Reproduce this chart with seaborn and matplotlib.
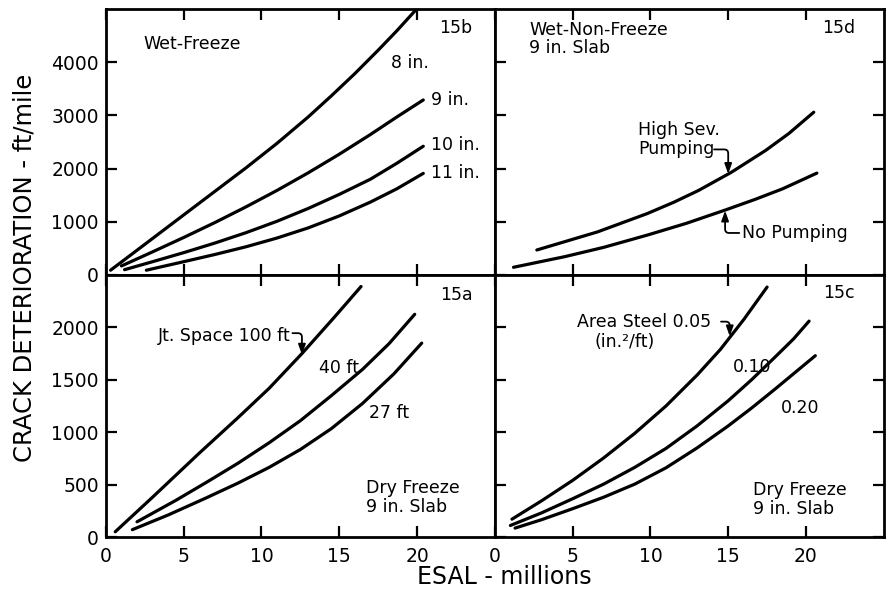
import matplotlib
matplotlib.use("Agg")
import matplotlib.pyplot as plt
import seaborn as sns

# ---- Panel 15b: Wet-Freeze, slab thickness ----
wf_8in_esal = [0.3, 2.5, 5.0, 7.0, 9.0, 11.0, 13.0, 14.5, 16.0, 17.5, 18.7, 19.85]
wf_8in_crack = [90, 576, 1129, 1571, 2013, 2475, 2970, 3370, 3785, 4225, 4590, 4960]
wf_9in_esal = [1.0, 3.0, 5.0, 7.0, 9.0, 11.0, 13.0, 15.0, 17.0, 18.7, 20.4]
wf_9in_crack = [170, 435, 705, 985, 1280, 1590, 1920, 2270, 2640, 2970, 3290]
wf_10in_esal = [1.2, 3.0, 5.0, 7.0, 9.0, 11.0, 13.0, 15.0, 17.0, 18.7, 20.4]
wf_10in_crack = [100, 250, 420, 600, 795, 1010, 1250, 1515, 1800, 2100, 2420]
wf_11in_esal = [2.6, 5.0, 7.0, 9.0, 11.0, 13.0, 15.0, 17.0, 18.7, 20.4]
wf_11in_crack = [90, 250, 385, 530, 695, 885, 1110, 1370, 1620, 1910]

# ---- Panel 15d: Wet-Non-Freeze, 9 in. slab ----
wnf_high_esal = [2.7, 6.6, 9.8, 11.5, 13.1, 15.2, 17.4, 18.9, 20.5]
wnf_high_crack = [470, 810, 1155, 1367, 1590, 1930, 2340, 2660, 3060]
wnf_none_esal = [1.2, 4.5, 7.0, 9.8, 12.3, 14.8, 16.7, 18.5, 20.7]
wnf_none_crack = [145, 345, 520, 750, 970, 1220, 1418, 1620, 1915]

# ---- Panel 15a: Dry Freeze, joint spacing ----
df_100ft_esal = [0.6, 3.0, 6.0, 8.5, 10.5, 12.6, 14.7, 16.4]
df_100ft_crack = [50, 380, 800, 1140, 1420, 1750, 2100, 2390]
df_40ft_esal = [2.0, 4.5, 6.5, 8.5, 10.5, 12.5, 14.5, 16.5, 18.2, 19.85]
df_40ft_crack = [145, 350, 525, 705, 900, 1110, 1350, 1600, 1845, 2125]
df_27ft_esal = [1.7, 4.0, 6.4, 8.5, 10.5, 12.5, 14.5, 16.5, 18.5, 20.3]
df_27ft_crack = [70, 210, 370, 515, 665, 835, 1035, 1275, 1555, 1850]

# ---- Panel 15c: Dry Freeze, area of steel ----
st_005_esal = [1.1, 3.0, 5.0, 7.0, 9.0, 11.0, 13.0, 14.5, 16.0, 17.5]
st_005_crack = [170, 345, 540, 755, 990, 1250, 1545, 1790, 2075, 2385]
st_010_esal = [1.0, 3.0, 5.0, 7.0, 9.0, 11.0, 13.0, 15.0, 16.5, 18.0, 19.2, 20.2]
st_010_crack = [110, 230, 365, 505, 665, 845, 1060, 1300, 1500, 1715, 1890, 2060]
st_020_esal = [1.3, 3.0, 5.0, 7.0, 9.0, 11.0, 13.0, 15.0, 16.5, 18.0, 19.3, 20.6]
st_020_crack = [85, 165, 270, 380, 505, 660, 850, 1060, 1230, 1410, 1570, 1730]

x_ticks = [0, 5, 10, 15, 20]
y_ticks_top = [0, 1000, 2000, 3000, 4000]
y_ticks_bottom = [0, 500, 1000, 1500, 2000]

sns.set_theme(style="ticks")
plt.rcParams["font.family"] = ["DejaVu Sans"]

fig, axes = plt.subplots(
    2, 2, figsize=(8.9, 5.99), dpi=100, sharex=True, sharey="row",
    gridspec_kw=dict(wspace=0, hspace=0, height_ratios=[266, 262]),
)
fig.subplots_adjust(left=0.119, right=0.993, top=0.985, bottom=0.1035)
ax_b, ax_d = axes[0]
ax_a, ax_c = axes[1]

LW = 2.3


def curve(ax, xs, ys):
    sns.lineplot(x=xs, y=ys, ax=ax, color="black", lw=LW, sort=False,
                 estimator=None, legend=False)
    ax.lines[-1].set_solid_joinstyle("round")
    ax.lines[-1].set_solid_capstyle("round")


for xs, ys in [(wf_8in_esal, wf_8in_crack), (wf_9in_esal, wf_9in_crack),
               (wf_10in_esal, wf_10in_crack), (wf_11in_esal, wf_11in_crack)]:
    curve(ax_b, xs, ys)
for xs, ys in [(wnf_high_esal, wnf_high_crack), (wnf_none_esal, wnf_none_crack)]:
    curve(ax_d, xs, ys)
for xs, ys in [(df_100ft_esal, df_100ft_crack), (df_40ft_esal, df_40ft_crack),
               (df_27ft_esal, df_27ft_crack)]:
    curve(ax_a, xs, ys)
for xs, ys in [(st_005_esal, st_005_crack), (st_010_esal, st_010_crack),
               (st_020_esal, st_020_crack)]:
    curve(ax_c, xs, ys)

for ax in axes.flat:
    ax.set_xlim(0, 25)
    ax.set_xticks(x_ticks)
    ax.set_xlabel("")
    ax.set_ylabel("")
    for s in ax.spines.values():
        s.set_linewidth(2.0)
        s.set_color("black")
    ax.tick_params(direction="in", length=8, width=1.6, top=True,
                   labelsize=13.5, colors="black", pad=5)

for ax in axes[0]:
    ax.set_ylim(0, 5000)
    ax.set_yticks(y_ticks_top)
for ax in axes[1]:
    ax.set_ylim(0, 2500)
    ax.set_yticks(y_ticks_bottom)
    ax.tick_params(axis="x", pad=7)
for ax in axes[:, 1]:
    ax.tick_params(axis="y", right=True, labelleft=False)

TXT = dict(fontsize=12.5, color="black")
ARROW = dict(arrowstyle="-|>,head_length=0.5,head_width=0.18", color="black",
             lw=1.3, shrinkA=1, shrinkB=0)

# 15b labels
ax_b.text(2.4, 4350, "Wet-Freeze", va="center", ha="left", **TXT)
ax_b.text(0.90, 0.93, "15b", transform=ax_b.transAxes, ha="center", va="center", **TXT)
ax_b.text(18.3, 3990, "8 in.", va="center", ha="left", **TXT)
ax_b.text(20.9, 3290, "9 in.", va="center", ha="left", **TXT)
ax_b.text(20.9, 2440, "10 in.", va="center", ha="left", **TXT)
ax_b.text(20.9, 1910, "11 in.", va="center", ha="left", **TXT)

# 15d labels
ax_d.text(2.2, 4780, "Wet-Non-Freeze\n9 in. Slab", va="top", ha="left",
          linespacing=1.05, **TXT)
ax_d.text(0.885, 0.93, "15d", transform=ax_d.transAxes, ha="center", va="center", **TXT)
ax_d.text(9.2, 2550, "High Sev.\nPumping", va="center", ha="left",
          linespacing=1.05, **TXT)
ax_d.annotate("", xy=(15.0, 1900), xytext=(14.0, 2360),
              arrowprops=dict(connectionstyle="angle,angleA=0,angleB=90,rad=4", **ARROW))
ax_d.text(15.9, 790, "No Pumping", va="center", ha="left", **TXT)
ax_d.annotate("", xy=(14.8, 1210), xytext=(15.8, 790),
              arrowprops=dict(connectionstyle="angle,angleA=0,angleB=90,rad=4", **ARROW))

# 15a labels
ax_a.text(3.35, 1920, "Jt. Space 100 ft", va="center", ha="left", **TXT)
ax_a.annotate("", xy=(12.6, 1740), xytext=(11.9, 1945),
              arrowprops=dict(connectionstyle="angle,angleA=0,angleB=90,rad=4", **ARROW))
ax_a.text(13.7, 1615, "40 ft", va="center", ha="left", **TXT)
ax_a.text(16.9, 1180, "27 ft", va="center", ha="left", **TXT)
ax_a.text(0.90, 0.925, "15a", transform=ax_a.transAxes, ha="center", va="center", **TXT)
ax_a.text(16.75, 375, "Dry Freeze\n9 in. Slab", va="center", ha="left",
          linespacing=1.05, **TXT)

# 15c labels
ax_c.text(5.3, 2055, "Area Steel 0.05", va="center", ha="left", **TXT)
ax_c.text(6.4, 1865, "(in.\u00b2/ft)", va="center", ha="left", **TXT)
ax_c.annotate("", xy=(15.1, 1915), xytext=(14.45, 2055),
              arrowprops=dict(connectionstyle="angle,angleA=0,angleB=90,rad=4", **ARROW))
ax_c.text(15.3, 1625, "0.10", va="center", ha="left", **TXT)
ax_c.text(18.4, 1230, "0.20", va="center", ha="left", **TXT)
ax_c.text(0.885, 0.93, "15c", transform=ax_c.transAxes, ha="center", va="center", **TXT)
ax_c.text(16.6, 360, "Dry Freeze\n9 in. Slab", va="center", ha="left",
          linespacing=1.05, **TXT)

fig.text(0.027, 0.553, "CRACK DETERIORATION - ft/mile", rotation=90,
         ha="center", va="center", fontsize=17.5, color="black")
fig.text(0.567, 0.036, "ESAL - millions", ha="center", va="center",
         fontsize=17, color="black")

fig.savefig("out.png", dpi=100)
